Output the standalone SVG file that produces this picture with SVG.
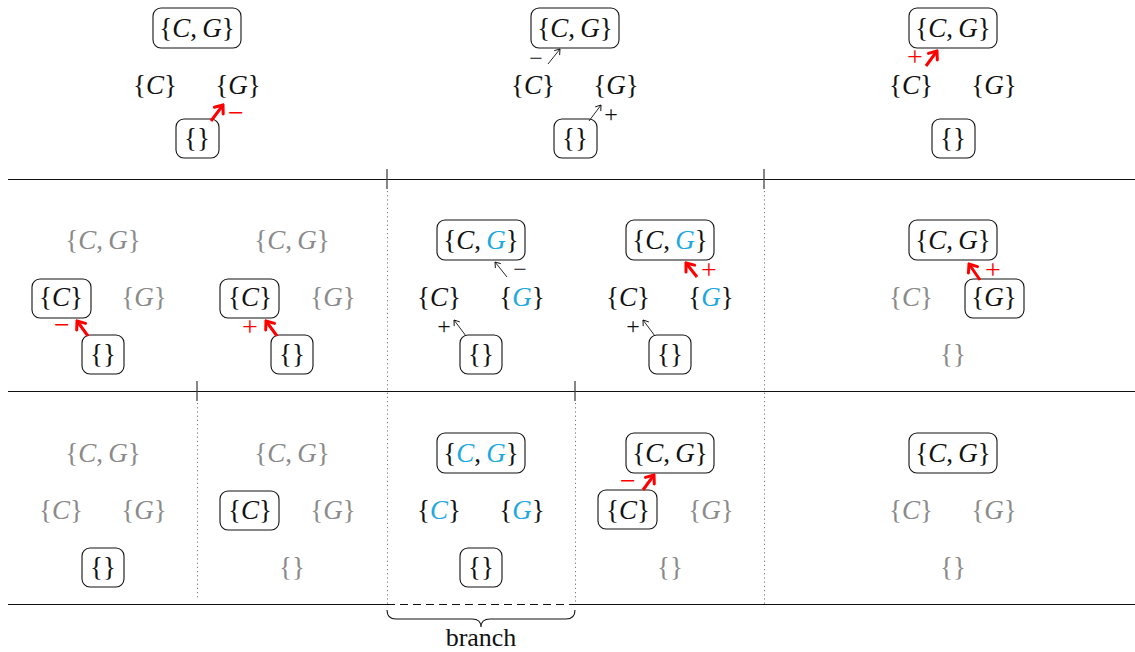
<svg xmlns="http://www.w3.org/2000/svg" width="1135" height="652" viewBox="0 0 1135 652">
  <style>
    text { font-family: "Liberation Serif", "Times New Roman", serif; font-size: 27px; text-anchor: middle; fill: #111; }
    .g { fill: #8a8a8a; }
    .i { font-style: italic; }
    .b { fill: #1da8e0; }
    .sg { font-size: 24px; }
    .sr { fill: #ff0000; font-size: 28px; }
    .box { fill: none; stroke: #111; stroke-width: 1.1; }
    .rule { stroke: #111; stroke-width: 1.1; fill: none; }
    .tick { stroke: #444; stroke-width: 1.3; }
    .dot { stroke: #777; stroke-width: 1; stroke-dasharray: 1.2 3; fill: none; }
    .red { stroke: #ff0000; stroke-width: 3; fill: none; marker-end: url(#hr); }
    .thin { stroke: #111; stroke-width: 0.9; fill: none; marker-end: url(#hb); }
  </style>
  <defs>
    <marker id="hr" markerUnits="userSpaceOnUse" viewBox="-10 -8 12 16" refX="0" refY="0" markerWidth="12" markerHeight="16" orient="auto">
      <path d="M-7,-5.5 L0,0 L-7,5.5" fill="none" stroke="#ff0000" stroke-width="3" stroke-linecap="round" stroke-linejoin="miter"/>
    </marker>
    <marker id="hb" markerUnits="userSpaceOnUse" viewBox="-8 -6 10 12" refX="0" refY="0" markerWidth="10" markerHeight="12" orient="auto">
      <path d="M-5,-3.5 L0,0 L-5,3.5" fill="none" stroke="#111" stroke-width="0.9"/>
    </marker>
  </defs>

  <!-- frame: rows, separators, dotted column guides -->
  <g id="frame">
    <line class="rule" x1="8" y1="179.5" x2="1135" y2="179.5"/>
    <line class="rule" x1="8" y1="391.5" x2="1135" y2="391.5"/>
    <line class="rule" x1="8" y1="604.5" x2="387" y2="604.5"/>
    <line class="rule" x1="387" y1="604.5" x2="575" y2="604.5" stroke-dasharray="8 5"/>
    <line class="rule" x1="575" y1="604.5" x2="1135" y2="604.5"/>
    <line class="tick" x1="387" y1="169" x2="387" y2="189"/>
    <line class="tick" x1="764" y1="169" x2="764" y2="189"/>
    <line class="tick" x1="197" y1="381" x2="197" y2="401"/>
    <line class="tick" x1="575" y1="381" x2="575" y2="401"/>
    <line class="dot" x1="387.5" y1="191" x2="387.5" y2="604"/>
    <line class="dot" x1="764.5" y1="191" x2="764.5" y2="604"/>
    <line class="dot" x1="197.5" y1="403" x2="197.5" y2="600"/>
    <line class="dot" x1="575.5" y1="403" x2="575.5" y2="604"/>
    <path class="rule" stroke-width="1" d="M387,610 Q387,619 396,619 L472,619 Q481,619 481,627 Q481,619 490,619 L566,619 Q575,619 575,610"/>
    <text x="481" y="646" style="font-size:26px">branch</text>
  </g>

  <!-- row 1 -->
  <g id="r1c1-cg"><rect class="box" x="153" y="8" width="88" height="40" rx="8"/><text x="197" y="37">{<tspan class="i">C</tspan>,&#8201;<tspan class="i">G</tspan>}</text></g>
  <g id="r1c1-c"><text x="155" y="94">{<tspan class="i">C</tspan>}</text></g>
  <g id="r1c1-g"><text x="238" y="94">{<tspan class="i">G</tspan>}</text></g>
  <g id="r1c1-e"><rect class="box" x="176" y="119" width="43" height="39" rx="8"/><text x="197" y="147">{}</text></g>

  <g id="r1c2-cg"><rect class="box" x="531" y="8" width="88" height="40" rx="8"/><text x="575" y="37">{<tspan class="i">C</tspan>,&#8201;<tspan class="i">G</tspan>}</text></g>
  <g id="r1c2-c"><text x="533" y="94">{<tspan class="i">C</tspan>}</text></g>
  <g id="r1c2-g"><text x="616" y="94">{<tspan class="i">G</tspan>}</text></g>
  <g id="r1c2-e"><rect class="box" x="554" y="119" width="43" height="39" rx="8"/><text x="575" y="147">{}</text></g>

  <g id="r1c3-cg"><rect class="box" x="909" y="8" width="88" height="40" rx="8"/><text x="953" y="37">{<tspan class="i">C</tspan>,&#8201;<tspan class="i">G</tspan>}</text></g>
  <g id="r1c3-c"><text x="911" y="94">{<tspan class="i">C</tspan>}</text></g>
  <g id="r1c3-g"><text x="994" y="94">{<tspan class="i">G</tspan>}</text></g>
  <g id="r1c3-e"><rect class="box" x="932" y="119" width="43" height="39" rx="8"/><text x="953" y="147">{}</text></g>

  <!-- row 2 -->
  <g id="r2c1-cg"><text class="g" x="103" y="249">{<tspan class="i">C</tspan>,&#8201;<tspan class="i">G</tspan>}</text></g>
  <g id="r2c1-c"><rect class="box" x="32" y="279" width="59" height="39" rx="8"/><text x="61" y="306">{<tspan class="i">C</tspan>}</text></g>
  <g id="r2c1-g"><text class="g" x="144" y="306">{<tspan class="i">G</tspan>}</text></g>
  <g id="r2c1-e"><rect class="box" x="82" y="335" width="42" height="39" rx="8"/><text x="103" y="363">{}</text></g>

  <g id="r2c2-cg"><text class="g" x="292" y="249">{<tspan class="i">C</tspan>,&#8201;<tspan class="i">G</tspan>}</text></g>
  <g id="r2c2-c"><rect class="box" x="220" y="279" width="59" height="39" rx="8"/><text x="250" y="306">{<tspan class="i">C</tspan>}</text></g>
  <g id="r2c2-g"><text class="g" x="333" y="306">{<tspan class="i">G</tspan>}</text></g>
  <g id="r2c2-e"><rect class="box" x="271" y="335" width="42" height="39" rx="8"/><text x="292" y="363">{}</text></g>

  <g id="r2c3-cg"><rect class="box" x="437" y="220" width="88" height="40" rx="8"/><text x="481" y="249">{<tspan class="i">C</tspan>,&#8201;<tspan class="i b">G</tspan>}</text></g>
  <g id="r2c3-c"><text x="439" y="306">{<tspan class="i">C</tspan>}</text></g>
  <g id="r2c3-g"><text x="522" y="306">{<tspan class="i b">G</tspan>}</text></g>
  <g id="r2c3-e"><rect class="box" x="460" y="335" width="42" height="39" rx="8"/><text x="481" y="363">{}</text></g>

  <g id="r2c4-cg"><rect class="box" x="626" y="220" width="88" height="40" rx="8"/><text x="670" y="249">{<tspan class="i">C</tspan>,&#8201;<tspan class="i b">G</tspan>}</text></g>
  <g id="r2c4-c"><text x="628" y="306">{<tspan class="i">C</tspan>}</text></g>
  <g id="r2c4-g"><text x="711" y="306">{<tspan class="i b">G</tspan>}</text></g>
  <g id="r2c4-e"><rect class="box" x="649" y="335" width="42" height="39" rx="8"/><text x="670" y="363">{}</text></g>

  <g id="r2c5-cg"><rect class="box" x="909" y="220" width="88" height="40" rx="8"/><text x="953" y="249">{<tspan class="i">C</tspan>,&#8201;<tspan class="i">G</tspan>}</text></g>
  <g id="r2c5-c"><text class="g" x="911" y="306">{<tspan class="i">C</tspan>}</text></g>
  <g id="r2c5-g"><rect class="box" x="965" y="279" width="59" height="39" rx="8"/><text x="994" y="306">{<tspan class="i">G</tspan>}</text></g>
  <g id="r2c5-e"><text class="g" x="953" y="363">{}</text></g>

  <!-- row 3 -->
  <g id="r3c1-cg"><text class="g" x="103" y="462">{<tspan class="i">C</tspan>,&#8201;<tspan class="i">G</tspan>}</text></g>
  <g id="r3c1-c"><text class="g" x="61" y="519">{<tspan class="i">C</tspan>}</text></g>
  <g id="r3c1-g"><text class="g" x="144" y="519">{<tspan class="i">G</tspan>}</text></g>
  <g id="r3c1-e"><rect class="box" x="82" y="548" width="42" height="39" rx="8"/><text x="103" y="576">{}</text></g>

  <g id="r3c2-cg"><text class="g" x="292" y="462">{<tspan class="i">C</tspan>,&#8201;<tspan class="i">G</tspan>}</text></g>
  <g id="r3c2-c"><rect class="box" x="220" y="491" width="59" height="39" rx="8"/><text x="250" y="519">{<tspan class="i">C</tspan>}</text></g>
  <g id="r3c2-g"><text class="g" x="333" y="519">{<tspan class="i">G</tspan>}</text></g>
  <g id="r3c2-e"><text class="g" x="292" y="576">{}</text></g>

  <g id="r3c3-cg"><rect class="box" x="437" y="433" width="88" height="40" rx="8"/><text x="481" y="462">{<tspan class="i b">C</tspan>,&#8201;<tspan class="i b">G</tspan>}</text></g>
  <g id="r3c3-c"><text x="439" y="519">{<tspan class="i b">C</tspan>}</text></g>
  <g id="r3c3-g"><text x="522" y="519">{<tspan class="i b">G</tspan>}</text></g>
  <g id="r3c3-e"><rect class="box" x="460" y="548" width="42" height="39" rx="8"/><text x="481" y="576">{}</text></g>

  <g id="r3c4-cg"><rect class="box" x="626" y="433" width="88" height="40" rx="8"/><text x="670" y="462">{<tspan class="i">C</tspan>,&#8201;<tspan class="i">G</tspan>}</text></g>
  <g id="r3c4-c"><rect class="box" x="598" y="490" width="59" height="39" rx="8"/><text x="628" y="519">{<tspan class="i">C</tspan>}</text></g>
  <g id="r3c4-g"><text class="g" x="711" y="519">{<tspan class="i">G</tspan>}</text></g>
  <g id="r3c4-e"><text class="g" x="670" y="576">{}</text></g>

  <g id="r3c5-cg"><rect class="box" x="909" y="433" width="88" height="40" rx="8"/><text x="953" y="462">{<tspan class="i">C</tspan>,&#8201;<tspan class="i">G</tspan>}</text></g>
  <g id="r3c5-c"><text class="g" x="911" y="519">{<tspan class="i">C</tspan>}</text></g>
  <g id="r3c5-g"><text class="g" x="994" y="519">{<tspan class="i">G</tspan>}</text></g>
  <g id="r3c5-e"><text class="g" x="953" y="576">{}</text></g>

  <!-- connectors with their sign labels -->
  <g id="connectors">
    <path class="red" d="M211,121 L223,105"/>
    <text class="sr" x="236" y="122">−</text>
    <path class="thin" d="M548,64 L560,49"/>
    <text class="sg" x="536" y="66">−</text>
    <path class="thin" d="M589,121 L601,105"/>
    <text class="sg" x="611" y="122">+</text>
    <path class="red" d="M926,66 L937,51"/>
    <text class="sr" x="915" y="66">+</text>

    <path class="red" d="M88,336 L77,321"/>
    <text class="sr" x="62" y="334">−</text>
    <path class="red" d="M277,336 L266,321"/>
    <text class="sr" x="250" y="336">+</text>
    <path class="thin" d="M507,277 L495,262"/>
    <text class="sg" x="520" y="277">−</text>
    <path class="thin" d="M466,336 L454,320"/>
    <text class="sg" x="444" y="334">+</text>
    <path class="red" d="M697,277 L686,263"/>
    <text class="sr" x="709" y="279">+</text>
    <path class="thin" d="M655,336 L643,320"/>
    <text class="sg" x="633" y="334">+</text>
    <path class="red" d="M980,280 L969,264"/>
    <text class="sr" x="993" y="279">+</text>

    <path class="red" d="M643,490 L654,475"/>
    <text class="sr" x="628" y="490">−</text>
  </g>
</svg>
